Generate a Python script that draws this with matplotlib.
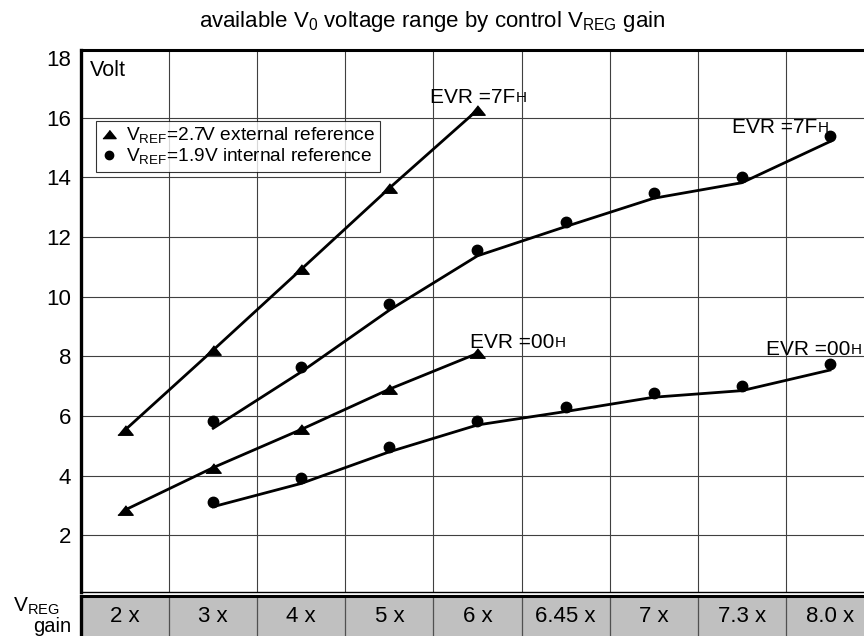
import numpy as np
import matplotlib
matplotlib.use("Agg")
from matplotlib import pyplot as plt
from matplotlib.lines import Line2D

plt.rcParams["font.family"] = ["Liberation Sans", "DejaVu Sans"]
plt.rcParams["mathtext.fontset"] = "custom"
plt.rcParams["mathtext.rm"] = "Liberation Sans"

# V_REG gain columns
gain_labels = ["2 x", "3 x", "4 x", "5 x", "6 x", "6.45 x", "7 x", "7.3 x", "8.0 x"]

# V_REF = 2.7V external reference (2x .. 6x)
ext_7f = [5.53, 8.21, 10.92, 13.64, 16.26]
ext_00 = [2.85, 4.27, 5.55, 6.90, 8.10]

# V_REF = 1.9V internal reference (3x .. 8.0x), measured points
int_7f = [5.84, 7.65, 9.75, 11.55, 12.51, 13.47, 14.00, 15.39]
int_00 = [3.13, 3.93, 4.97, 5.84, 6.31, 6.78, 7.01, 7.74]
# trend lines drawn under the internal reference points
int_7f_line = [5.59, 7.48, 9.55, 11.37, 12.35, 13.30, 13.82, 15.20]
int_00_line = [2.96, 3.74, 4.80, 5.70, 6.15, 6.63, 6.85, 7.54]

y_ticks = [2, 4, 6, 8, 10, 12, 14, 16, 18]

W, H = 864, 636
fig = plt.figure(figsize=(W / 100, H / 100), dpi=100)

ax = fig.add_axes([81 / W, 1 - 592 / H, 793 / W, 542 / H])
band = fig.add_axes([81 / W, 1 - 642 / H, 793 / W, 46 / H])

x = np.arange(len(gain_labels))
ext_x = x[:len(ext_7f)]
int_x = x[1:1 + len(int_7f)]

tri = [(-1, -0.62), (1, -0.62), (0, 0.62)]

ax.plot(ext_x, ext_7f, color="black", lw=2.0, marker=tri, ms=11, zorder=3)
ax.plot(ext_x, ext_00, color="black", lw=2.0, marker=tri, ms=11, zorder=3)
ax.plot(int_x, int_7f_line, color="black", lw=2.0, zorder=3)
ax.plot(int_x, int_00_line, color="black", lw=2.0, zorder=3)
ax.plot(int_x, int_7f, ls="none", color="black", marker="o", ms=7.5, zorder=4)
ax.plot(int_x, int_00, ls="none", color="black", marker="o", ms=7.5, zorder=4)

ax.set_xlim(-0.5, len(gain_labels) - 0.5)
ax.set_ylim(0.1, 18.27)
ax.set_xticks(np.arange(len(gain_labels)) + 0.5)
ax.set_yticks(y_ticks)
ax.set_yticklabels([str(v) for v in y_ticks], fontsize=16)
ax.tick_params(axis="y", length=0, pad=7)
ax.tick_params(axis="x", length=0, labelbottom=False)
ax.grid(True, color="#404040", lw=0.8)
ax.get_ygridlines()[-1].set_visible(False)
ax.set_axisbelow(True)

ax.spines["left"].set_linewidth(2.4)
ax.spines["top"].set_linewidth(2.2)
ax.spines["bottom"].set_linewidth(1.0)
ax.spines["right"].set_linewidth(2.2)

legend_handles = [
    Line2D([], [], ls="none", color="black", marker=tri, ms=9.5),
    Line2D([], [], ls="none", color="black", marker="o", ms=6),
]
legend_labels = [
    r"V$_{\mathregular{REF}}$=2.7V external reference",
    r"V$_{\mathregular{REF}}$=1.9V internal reference",
]
leg = ax.legend(legend_handles, legend_labels, loc="upper left",
                bbox_to_anchor=(95.7 / W, 1 - 120.7 / H), bbox_transform=fig.transFigure,
                fontsize=13.8, frameon=True, fancybox=False, edgecolor="black",
                borderaxespad=0, borderpad=0.25, handlelength=0.9, handletextpad=0.45,
                labelspacing=0.05)
leg.get_frame().set_linewidth(0.8)


def evr_label(xv, yv, main):
    t = ax.text(xv, yv, main, fontsize=15, ha="left", va="baseline", zorder=5)
    ax.annotate("H", xy=(1, 0), xycoords=t, xytext=(0.3, 1.5), textcoords="offset points",
                fontsize=11, ha="left", va="bottom", zorder=5)


evr_label(3.46, 16.49, "EVR =7F")
evr_label(6.89, 15.49, "EVR =7F")
evr_label(3.92, 8.28, "EVR =00")
evr_label(7.27, 8.05, "EVR =00")

ax.text(90 / W, 1 - 71 / H, "Volt", transform=fig.transFigure, fontsize=15.5,
        ha="left", va="center")

# gain table under the plot
band.set_facecolor("#c0c0c0")
band.set_xlim(-0.5, len(gain_labels) - 0.5)
band.set_ylim(0, 1)
band.set_xticks([])
band.set_yticks([])
for edge in np.arange(len(gain_labels)) + 0.5:
    band.axvline(edge, color="#505050", lw=0.9)
for i, lab in enumerate(gain_labels):
    band.text(x[i], 0.55, lab, fontsize=16, ha="center", va="center")
band.spines["top"].set_linewidth(2.2)
band.spines["left"].set_linewidth(2.4)
band.spines["bottom"].set_visible(False)
band.spines["right"].set_visible(False)

fig.text(13 / W, 1 - 606 / H, r"V$_{\mathregular{REG}}$", fontsize=15, ha="left", va="center")
fig.text(71 / W, 1 - 626 / H, "gain", fontsize=14.5, ha="right", va="center")

fig.text(0.5, 1 - 22 / H,
         r"available V$_{\mathregular{0}}$ voltage range by control V$_{\mathregular{REG}}$ gain",
         fontsize=16, ha="center", va="center")

fig.savefig("out.png", dpi=100)
